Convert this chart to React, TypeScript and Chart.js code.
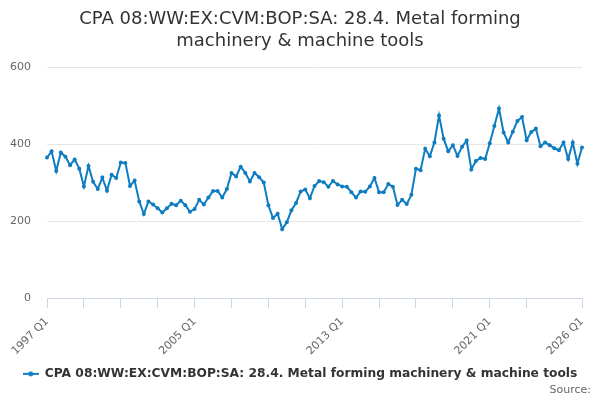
import { useEffect, useRef } from 'react';
import { Chart, registerables } from 'chart.js';

Chart.register(...registerables);

const TITLE_LINES = ['CPA 08:WW:EX:CVM:BOP:SA: 28.4. Metal forming', 'machinery & machine tools'];
const SERIES_NAME = 'CPA 08:WW:EX:CVM:BOP:SA: 28.4. Metal forming machinery & machine tools';

// quarterly categories, 1997 Q1 .. 2026 Q1
const YEARS = Array.from({ length: 30 }, (_, i) => 1997 + i);
const QUARTERS = YEARS.flatMap(y => [1, 2, 3, 4].map(q => `${y} Q${q}`)).slice(0, 117);

const TICK_MARKS = ['1997 Q1', '1999 Q1', '2001 Q1', '2003 Q1', '2005 Q1', '2007 Q1', '2009 Q1',
  '2011 Q1', '2013 Q1', '2015 Q1', '2017 Q1', '2019 Q1', '2021 Q1', '2023 Q1', '2026 Q1'];
const TICK_LABELS = ['1997 Q1', '2005 Q1', '2013 Q1', '2021 Q1', '2026 Q1'];

const VALUES = [
  365, 381, 330, 378, 367, 345, 360, 336, 290, 343, 302, 283, 313, 279, 320, 312,
  352, 351, 291, 305, 251, 218, 251, 243, 233, 222, 233, 245, 241, 253, 241, 224,
  231, 255, 243, 261, 278, 278, 261, 283, 325, 316, 341, 325, 303, 325, 314, 300,
  241, 208, 219, 179, 197, 228, 247, 277, 282, 259, 291, 304, 301, 289, 304, 295,
  290, 289, 275, 261, 277, 276, 290, 312, 275, 275, 296, 289, 242, 255, 244, 268,
  336, 332, 388, 368, 404, 474, 414, 381, 397, 369, 393, 409, 334, 356, 364, 361,
  402, 447, 492, 430, 404, 432, 460, 470, 410, 431, 440, 394, 404, 397, 389, 384,
  404, 361, 404, 349, 391,
];

const Y_TICKS = [0, 200, 400, 600];

const LINE_COLOR = '#0e7cc1';

function legendSymbol() {
  const c = document.createElement('canvas');
  c.width = 16;
  c.height = 8;
  const g = c.getContext('2d');
  if (g) {
    g.strokeStyle = LINE_COLOR;
    g.lineWidth = 2;
    g.beginPath();
    g.moveTo(0, 4);
    g.lineTo(16, 4);
    g.stroke();
    g.fillStyle = LINE_COLOR;
    g.beginPath();
    g.arc(8, 4, 2.5, 0, Math.PI * 2);
    g.fill();
  }
  return c;
}

const sourcePlugin = {
  id: 'sourceNote',
  afterDraw(chart: Chart) {
    const ctx = chart.ctx;
    ctx.save();
    ctx.font = "11px 'DejaVu Sans', sans-serif";
    ctx.fillStyle = '#666666';
    ctx.textAlign = 'right';
    ctx.textBaseline = 'middle';
    ctx.fillText('Source:', 591, 390);
    ctx.restore();
  },
};

export default function App() {
  const chartRef = useRef<HTMLCanvasElement>(null);
  const chartInstance = useRef<Chart | null>(null);

  useEffect(() => {
    document.body.style.margin = '0';
    if (!chartRef.current) return;

    if (chartInstance.current) {
      chartInstance.current.destroy();
    }

    const ctx = chartRef.current.getContext('2d');
    if (!ctx) return;

    Chart.defaults.font.family = "'DejaVu Sans', sans-serif";

    chartInstance.current = new Chart(ctx, {
      type: 'line',
      data: {
        labels: QUARTERS,
        datasets: [{
          label: SERIES_NAME,
          data: VALUES,
          borderColor: LINE_COLOR,
          backgroundColor: LINE_COLOR,
          borderWidth: 2,
          pointRadius: 2,
          pointHoverRadius: 3,
          pointBorderWidth: 0,
          tension: 0,
        }]
      },
      options: {
        responsive: false,
        animation: false,
        layout: { padding: { left: 7, right: 7, top: 0, bottom: 10 } },
        scales: {
          x: {
            type: 'category',
            border: { display: true, color: '#ccd6eb' },
            grid: {
              display: true,
              drawOnChartArea: false,
              drawTicks: true,
              tickLength: 10,
              tickColor: (c: any) => TICK_MARKS.includes(QUARTERS[c.index]) ? '#ccd6eb' : 'rgba(0,0,0,0)',
            },
            ticks: {
              autoSkip: false,
              maxRotation: 45,
              minRotation: 45,
              padding: 7,
              color: '#666666',
              font: { size: 11 },
              callback: (_v: any, i: number) => TICK_LABELS.includes(QUARTERS[i]) ? QUARTERS[i] : '',
            },
          },
          y: {
            min: 0,
            max: 600,
            afterBuildTicks: (axis: any) => { axis.ticks = Y_TICKS.map(v => ({ value: v })); },
            afterFit: (axis: any) => { axis.width = 40; },
            border: { display: false },
            grid: { color: '#e6e6e6', drawTicks: false },
            ticks: { color: '#666666', font: { size: 11 }, padding: 16 },
          },
          // empty right margin so the legend centres on the page like the original
          yRight: {
            position: 'right',
            min: 0,
            max: 600,
            afterFit: (axis: any) => { axis.width = 11; },
            border: { display: false },
            grid: { display: false },
            ticks: { display: false },
          },
        },
        plugins: {
          title: {
            display: true,
            text: TITLE_LINES,
            color: '#333333',
            font: { size: 18, weight: 'normal', lineHeight: 1.25 },
            padding: { top: 8, bottom: 14 },
          },
          legend: {
            position: 'bottom',
            labels: {
              usePointStyle: true,
              pointStyle: legendSymbol(),
              pointStyleWidth: 16,
              color: '#333333',
              font: { size: 12.25, weight: 'bold' },
              padding: 3,
            },
          },
          tooltip: { enabled: false },
        }
      },
      plugins: [sourcePlugin],
    });

    return () => {
      if (chartInstance.current) {
        chartInstance.current.destroy();
        chartInstance.current = null;
      }
    };
  }, []);

  return (
    <div style={{ width: 600, height: 400 }}>
      <canvas ref={chartRef} width={600} height={400} />
    </div>
  );
}
